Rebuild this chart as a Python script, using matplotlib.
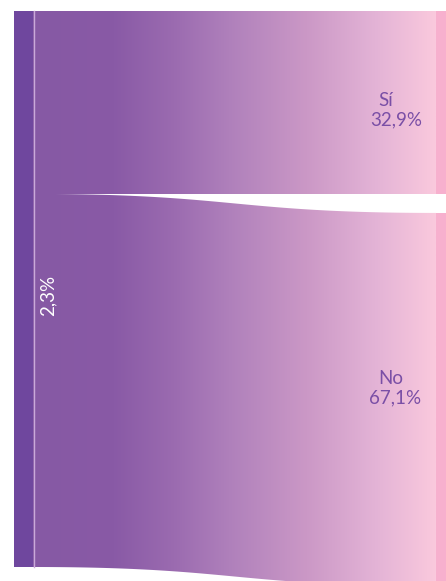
import numpy as np
import matplotlib
matplotlib.use("Agg")
import matplotlib.pyplot as plt
from matplotlib.patches import Polygon, Rectangle
from matplotlib.colors import LinearSegmentedColormap

# ---- data ----
source_label = "2,3%"
categories = ["Sí", "No"]
values = [32.9, 67.1]
value_labels = ["32,9%", "67,1%"]

# ---- styling ----
W, H = 446, 581
left_node_color = "#6F479E"
right_node_color = "#F7B0CE"
flow_cmap = LinearSegmentedColormap.from_list(
    "flow", [(0.0, "#8659A4"), (0.2, "#895AA6"), (0.35, "#9B6BB0"),
             (0.5, "#B182BC"), (0.68, "#CB98C6"), (0.85, "#E3B3D6"),
             (1.0, "#FAC9DD")])
text_color = "#7A4FA6"

fig = plt.figure(figsize=(W / 100, H / 100), dpi=100)
ax = fig.add_axes([0, 0, 1, 1])
ax.set_xlim(0, W)
ax.set_ylim(H, 0)
ax.axis("off")

# layout (pixel units)
top = 11
left_x0, left_x1 = 14, 33
right_x0, right_x1 = 436, 447
node_h = 556
gap = 19
scale = node_h / sum(values)

# left node
ax.add_patch(Rectangle((left_x0, top), left_x1 - left_x0, node_h,
                       color=left_node_color, lw=0, zorder=3))
ax.plot([left_x1 + 0.5, left_x1 + 0.5], [top, top + node_h],
        color="#C9A9DA", lw=1.0, zorder=4)

# horizontal cubic bezier link (control points at the midpoint)
u = np.linspace(0, 1, 300)
xs = left_x1 + (right_x0 - left_x1) * (1.5 * u - 1.5 * u**2 + u**3)
s = 3 * u**2 - 2 * u**3

grad = np.linspace(0, 1, 256).reshape(1, -1)
src_y = top
dst_y = top
for i, v in enumerate(values):
    h = v * scale
    y0s, y1s = src_y, src_y + h
    y0d, y1d = dst_y, dst_y + h
    upper = y0s + (y0d - y0s) * s
    lower = y1s + (y1d - y1s) * s
    poly_pts = np.vstack([np.column_stack([xs, upper]),
                          np.column_stack([xs[::-1], lower[::-1]])])
    poly = Polygon(poly_pts, closed=True, facecolor="none", edgecolor="none")
    ax.add_patch(poly)
    im = ax.imshow(grad, cmap=flow_cmap, aspect="auto",
                   extent=[left_x1, right_x0, max(y1s, y1d) + 1, min(y0s, y0d) - 1],
                   zorder=1, interpolation="bilinear")
    im.set_clip_path(poly)
    # right node
    ax.add_patch(Rectangle((right_x0, y0d), right_x1 - right_x0, h,
                           color=right_node_color, lw=0, zorder=3))
    src_y += h
    dst_y += h + gap

# right labels
label_pos = [(386, 101, 396, 120), (391, 379, 395, 398)]
for (cx, cy, vx, vy), c, vl in zip(label_pos, categories, value_labels):
    ax.text(cx, cy, c, color=text_color, fontsize=13.5, family="Lato",
            ha="center", va="center", zorder=5)
    ax.text(vx, vy, vl, color=text_color, fontsize=13.5, family="Lato",
            ha="center", va="center", zorder=5)

# source label
ax.text(48, 295, source_label, color="white", fontsize=13.5, family="Lato",
        rotation=90, ha="center", va="center", zorder=5)

fig.savefig("out.png", dpi=100)
